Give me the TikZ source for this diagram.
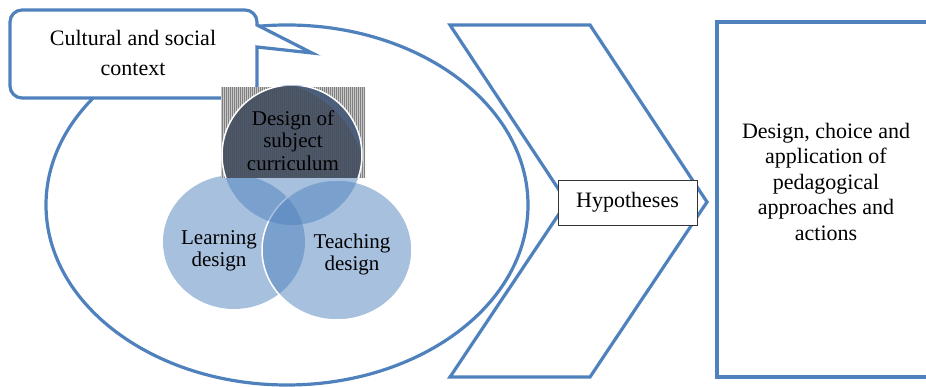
\documentclass[tikz,border=0pt]{standalone}
\usepackage{fontspec}
\setmainfont{Liberation Serif}
\definecolor{ofblue}{HTML}{4F81BD}
\definecolor{slate}{HTML}{434D5E}
\begin{document}
\fontsize{22}{25.5}\selectfont
\begin{tikzpicture}[x=1pt,y=1pt,
    outline/.style={draw=ofblue,line width=3.2pt},
    vennfill/.style={fill=ofblue,fill opacity=0.5}]
      \useasboundingbox (0,0) rectangle (926,387);
      \clip (0,0) rectangle (926,387);
      % outer context
      \draw[outline] (287,182) ellipse [x radius=241, y radius=180];
      \draw[outline,fill=white] (22,377) -- (245,377) arc[start angle=90, end angle=0, radius=12]
        -- (257,362) -- (312,334) -- (257,340) -- (257,301)
        arc[start angle=0, end angle=-90, radius=12] -- (22,289)
        arc[start angle=270, end angle=180, radius=12] -- (10,365)
        arc[start angle=180, end angle=90, radius=12] -- cycle;
      \node[align=center, font=\fontsize{22}{30}\selectfont] (ctx) at (133,334) {Cultural and social\\context};
      % venn circles
      \def \Circles{
        lrn/234/145/71/67/none,
        tch/337/137/75/70/white,
        cur/292/232/70/70/none}
      \foreach \id / \x / \y / \rx / \ry / \c in \Circles{
        \path[vennfill,draw=\c,line width=1.5pt] (\x,\y) ellipse [x radius=\rx, y radius=\ry];
        \coordinate (\id) at (\x,\y);
      }
      % textured band over the curriculum circle
      \begin{scope}
        \clip (221,209) rectangle (365,300);
        \fill[black!50] (221,209) rectangle (365,300);
        \foreach \x in {221,223,...,365}{
          \draw[black!22, line width=0.7pt] (\x,209) -- (\x,300);
        }
        \fill[slate, opacity=0.9] (cur) circle (70);
        \fill[ofblue, opacity=0.25] (cur) ++(70,0) arc[start angle=0, end angle=90, radius=70]
          to[bend left=25] cycle;
        \draw[white, line width=1.5pt] (cur) circle (70);
      \end{scope}
      \node[align=center, font=\fontsize{21}{22.5}\selectfont] (curtxt) at (293,246.5) {Design of\\subject\\curriculum};
      \node[align=center, font=\fontsize{21}{22}\selectfont] (lrntxt) at (219,136) {Learning\\design};
      \node[align=center, font=\fontsize{21}{22}\selectfont] (tchtxt) at (352,133) {Teaching\\design};
      % chevron and hypotheses
      \draw[outline, line join=miter] (450,362) -- (590,362) -- (707,185) -- (590,10)
        -- (450,10) -- (567,185) -- cycle;
      \node[draw=black!80, fill=white, line width=0.8pt, minimum width=139pt, minimum height=45pt,
        inner sep=0] (hyp) at (627.5,184.5) {Hypotheses};
      % actions
      \node[outline, minimum width=218pt, minimum height=355pt, inner sep=0] (act) at (826,187.5) {};
      \node[align=center] (acttxt) at (826,205.5) {Design, choice and\\application of\\pedagogical\\approaches and\\actions};
    \end{tikzpicture}
\end{document}
